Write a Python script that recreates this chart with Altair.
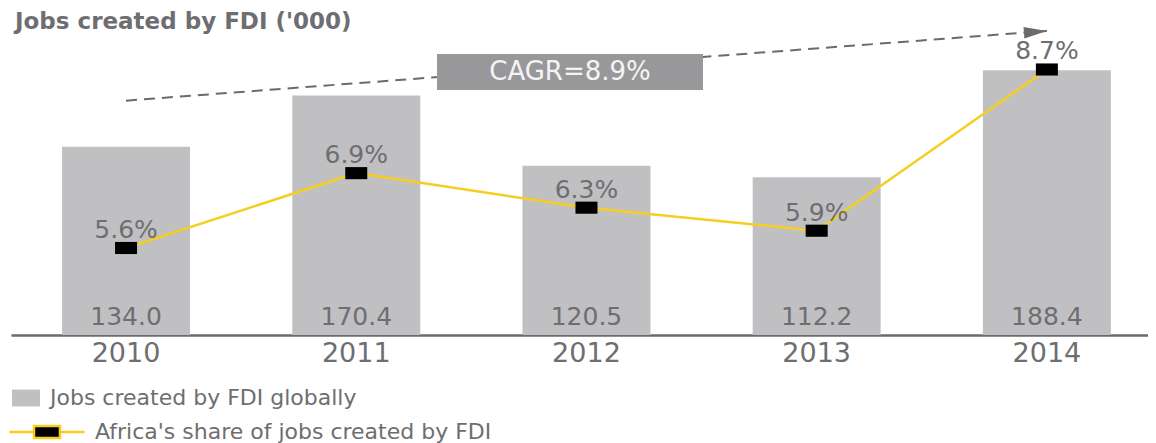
import altair as alt
import pandas as pd

# ---- data ----
years = ['2010', '2011', '2012', '2013', '2014']
jobs = [134.0, 170.4, 120.5, 112.2, 188.4]          # '000 jobs created by FDI globally
share = [5.6, 6.9, 6.3, 5.9, 8.7]                  # Africa's share, %
legend_labels = ['Jobs created by FDI globally', "Africa's share of jobs created by FDI"]
title_text = "Jobs created by FDI ('000)"
cagr_text = 'CAGR=8.9%'
arrow_years = ['2010', '2014']
arrow_levels = [166.8, 216.4]    # in jobs-axis units
box_levels = [174.4, 200.0]      # in jobs-axis units

FONT = 'DejaVu Sans'
TXT = '#6e6e70'
BAR = '#c0c0c2'
YELLOW = '#f7cd1f'
DARK = '#6b6b6d'

df = pd.DataFrame({'year': years, 'jobs': jobs, 'share': share,
                   'lg1': legend_labels[0], 'lg2': legend_labels[1]})
arrow_df = pd.DataFrame({'year': [arrow_years[0]], 'year2': [arrow_years[1]],
                         'y': [arrow_levels[0]], 'y2': [arrow_levels[1]]})
head_df = pd.DataFrame({'year': [arrow_years[1]], 'y': [arrow_levels[1]]})
box_df = pd.DataFrame({'y': [box_levels[1]], 'y2': [box_levels[0]],
                       'mid': [(box_levels[0] + box_levels[1]) / 2], 'label': [cagr_text]})
title_df = pd.DataFrame({'t': [title_text]})

xscale = alt.Scale(domain=years, paddingInner=0.444, paddingOuter=0.1915, align=0.579)
xaxis = alt.Axis(title=None, ticks=False, labelAngle=0, labelFont=FONT, labelFontSize=27,
                 labelColor=TXT, labelPadding=5, domainColor=DARK, domainWidth=2.5, grid=False)
xenc = alt.X('year:N', scale=xscale, axis=xaxis)
yjobs = alt.Scale(domain=[0, 200], nice=False, zero=False)
yshare = alt.Scale(domain=[4.089, 8.969], nice=False, zero=False)

base = alt.Chart(df)

bars = base.mark_bar(strokeWidth=0).encode(
    x=xenc,
    y=alt.Y('jobs:Q', scale=yjobs, axis=None),
    fill=alt.Fill('lg1:N', scale=alt.Scale(domain=[legend_labels[0]], range=[BAR]),
                  legend=alt.Legend(orient='none', legendX=1, legendY=330, title=None,
                                    symbolType='M-1,-0.6H1V0.6H-1Z', symbolSize=784,
                                    symbolStrokeWidth=0, labelFont=FONT, labelFontSize=22,
                                    labelColor=TXT, labelOffset=10, padding=0, labelLimit=0)),
)

bar_labels = base.mark_text(baseline='alphabetic', dy=-10, font=FONT, fontSize=25,
                            color=TXT).encode(
    x=xenc,
    y=alt.Y(datum=0, scale=yjobs, axis=None),
    text=alt.Text('jobs:Q', format='.1f'),
)

arrow = alt.Chart(arrow_df).mark_rule(strokeDash=[11, 7], strokeWidth=2, color=DARK).encode(
    x=xenc, x2='year2:N',
    y=alt.Y('y:Q', scale=yjobs, axis=None), y2='y2:Q',
)
head = alt.Chart(head_df).mark_point(shape='M-2,-0.5L0,0L-2,0.5Z', size=529, filled=True,
                                     opacity=1, color=DARK, angle=355.65).encode(
    x=xenc, y=alt.Y('y:Q', scale=yjobs, axis=None),
)

box = alt.Chart(box_df).mark_rect(color='#98989b').encode(
    x=alt.value(426), x2=alt.value(692),
    y=alt.Y('y:Q', scale=yjobs, axis=None), y2='y2:Q',
)
box_text = alt.Chart(box_df).mark_text(font=FONT, fontSize=26, color='#f4f4f4',
                                       baseline='middle', align='center').encode(
    x=alt.value(559), y=alt.Y('mid:Q', scale=yjobs, axis=None), text='label:N',
)

line = base.mark_line(color=YELLOW, strokeWidth=2.5).encode(
    x=xenc, y=alt.Y('share:Q', scale=yshare, axis=None),
)
points = base.mark_point(shape='M-1,-0.55H1V0.55H-1Z', size=484, filled=True, opacity=1,
                         strokeWidth=0).encode(
    x=xenc, y=alt.Y('share:Q', scale=yshare, axis=None),
    fill=alt.Fill('lg2:N', scale=alt.Scale(domain=[legend_labels[1]], range=['#000000']),
                  legend=alt.Legend(orient='none', legendX=-3, legendY=339, title=None,
                                    symbolType='M-1,0H-0.347M0.347,0H1M-0.347,-0.16H0.347V0.16H-0.347Z',
                                    symbolSize=5625, symbolStrokeColor=YELLOW,
                                    symbolStrokeWidth=2.5, labelFont=FONT, labelFontSize=22,
                                    labelColor=TXT, labelOffset=9, padding=0, labelLimit=0)),
)
share_labels = base.transform_calculate(
    lbl="format(datum.share, '.1f') + '%'"
).mark_text(baseline='alphabetic', dy=-10, font=FONT, fontSize=25, color=TXT).encode(
    x=xenc, y=alt.Y('share:Q', scale=yshare, axis=None), text='lbl:N',
)

title = alt.Chart(title_df).mark_text(align='left', baseline='alphabetic', font=FONT,
                                      fontSize=23, fontWeight='bold', color='#6e6e72').encode(
    x=alt.value(4), y=alt.value(-25), text='t:N',
)

chart = alt.layer(
    bars, bar_labels, arrow, head, box, box_text, line, points, share_labels, title
).resolve_scale(y='independent', fill='independent').properties(
    width=1137, height=281,
    autosize='none',
    background='white',
    padding={'left': 3, 'top': 46, 'right': 0, 'bottom': 108},
).configure_view(stroke=None)

chart.save('out.html', embed_options={'renderer': 'svg', 'actions': False})
